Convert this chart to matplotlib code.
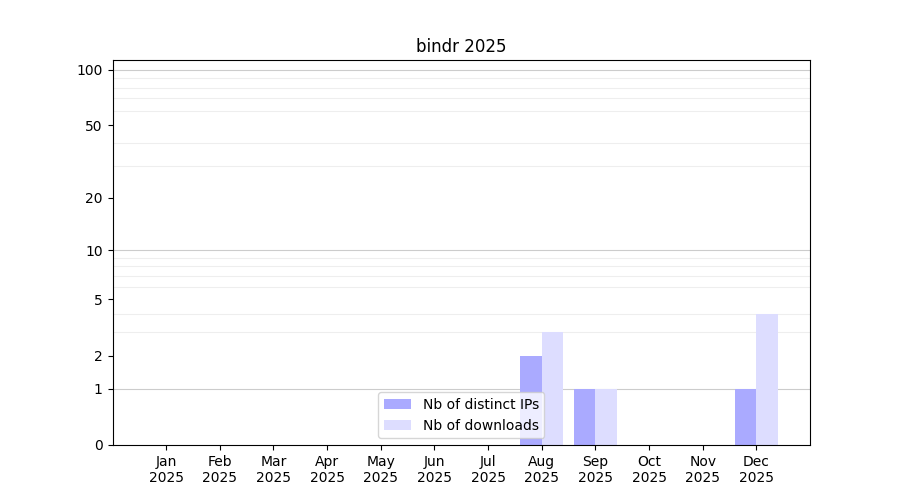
import numpy as np
import matplotlib
matplotlib.use("Agg")
import matplotlib.pyplot as plt

months = ["Jan", "Feb", "Mar", "Apr", "May", "Jun",
          "Jul", "Aug", "Sep", "Oct", "Nov", "Dec"]
year = "2025"
distinct_ips = [0, 0, 0, 0, 0, 0, 0, 2, 1, 0, 0, 1]
downloads = [0, 0, 0, 0, 0, 0, 0, 3, 1, 0, 0, 4]
major_ticks = [0, 1, 2, 5, 10, 20, 50, 100]
decade_lines = [1, 10, 100]
minor_lines = [2, 3, 4, 5, 6, 7, 8, 9, 20, 30, 40, 50, 60, 70, 80, 90]


def fwd(v):
    return np.log10(1 + np.asarray(v, dtype=float))


def inv(v):
    return 10 ** np.asarray(v, dtype=float) - 1


fig, ax = plt.subplots(figsize=(9, 5), dpi=100)
x = np.arange(len(months))

ax.set_yscale("function", functions=(fwd, inv))
ax.set_axisbelow(True)

ax.bar(x, distinct_ips, width=-0.4, align="edge", color="#aaaaff",
       label="Nb of distinct IPs")
ax.bar(x, downloads, width=0.4, align="edge", color="#ddddff",
       label="Nb of downloads")

ax.set_yticks(major_ticks)
ax.set_yticklabels([str(t) for t in major_ticks])
ax.set_yticks(minor_lines, minor=True)
ax.tick_params(axis="y", which="minor", length=0)
ax.grid(axis="y", which="minor", color="#eeeeee", linewidth=0.8)
for d in decade_lines:
    ax.axhline(d, color="#cccccc", linewidth=0.8, zorder=0.5)

ax.set_ylim(0, 113)
ax.set_xlim(-1, 12)
ax.set_xticks(x)
ax.set_xticklabels([f"{m}\n{year}" for m in months])

ax.set_title("bindr 2025")
ax.legend(loc="lower center")

fig.savefig("out.png")
